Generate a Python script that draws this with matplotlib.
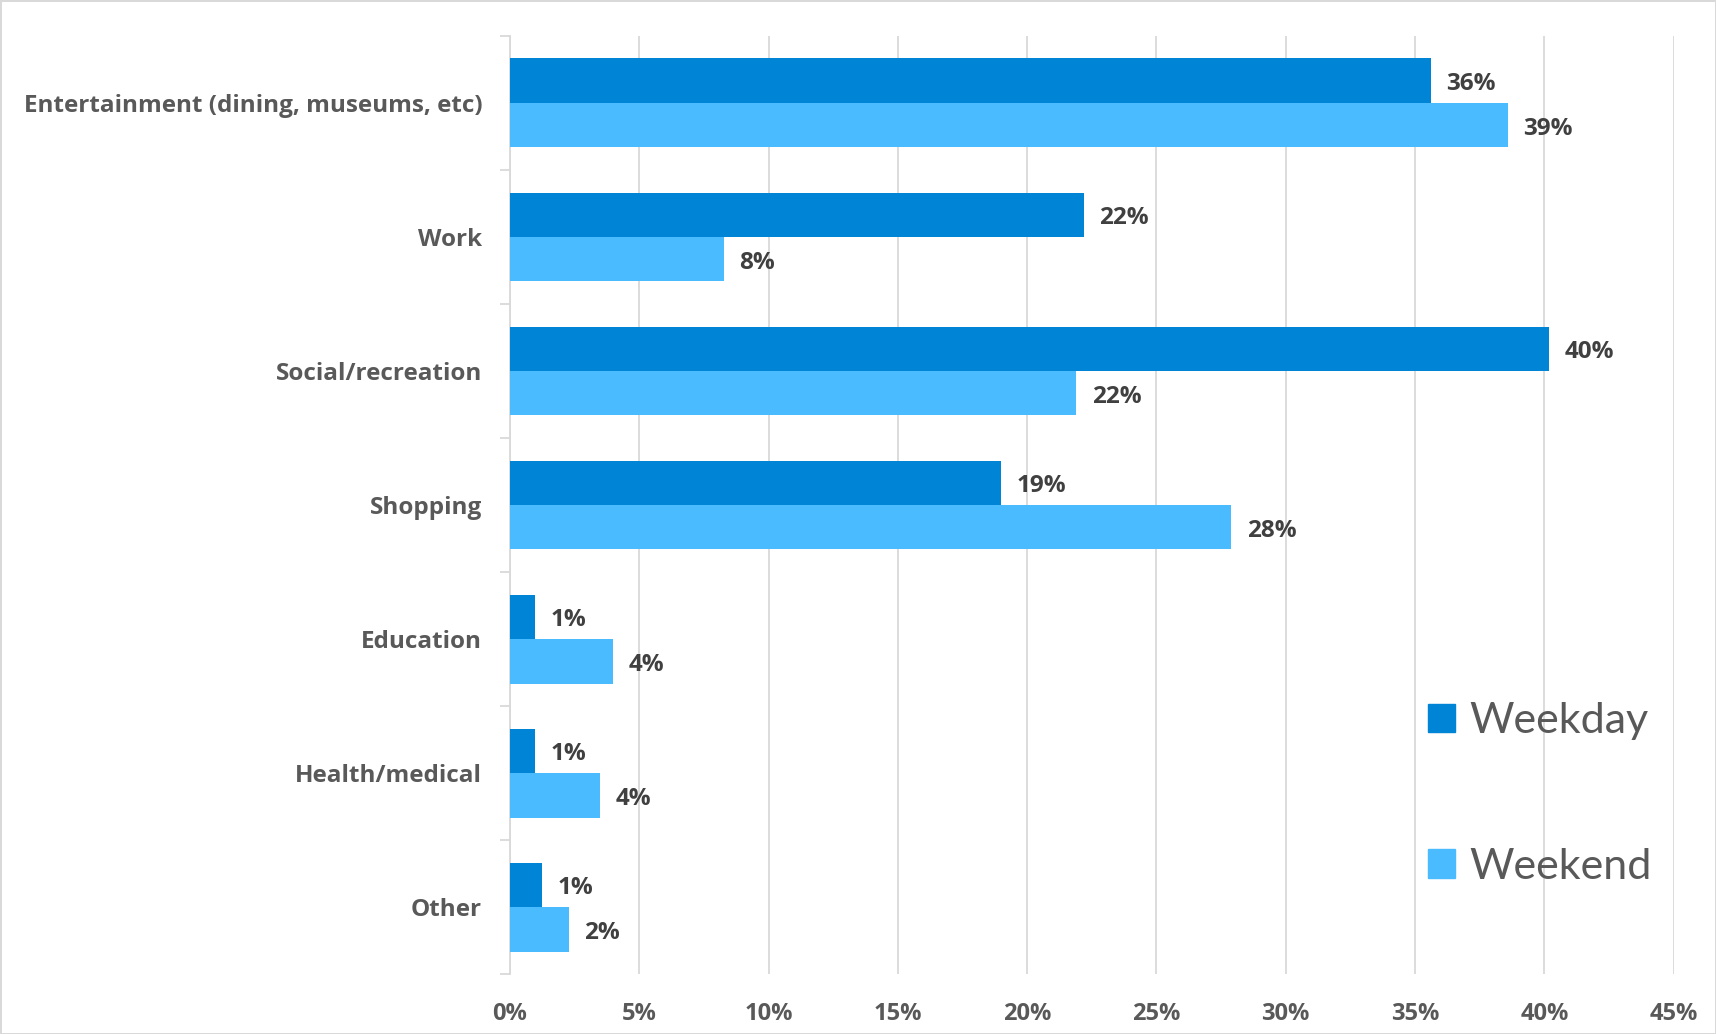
import numpy as np
import matplotlib.pyplot as plt
from matplotlib.patches import Patch

# trip purpose share, weekday vs weekend
categories = ['Entertainment (dining, museums, etc)', 'Work', 'Social/recreation',
              'Shopping', 'Education', 'Health/medical', 'Other']
weekday = [35.6, 22.2, 40.2, 19.0, 0.97, 0.97, 1.25]
weekend = [38.6, 8.26, 21.9, 27.9, 3.98, 3.5, 2.29]
xticks = [0, 5, 10, 15, 20, 25, 30, 35, 40, 45]

c_weekday = '#0084d5'
c_weekend = '#4bbbff'
grid_c = '#d9d9d9'

plt.rcParams['font.family'] = ['Open Sans', 'DejaVu Sans']

fig = plt.figure(figsize=(17.16, 10.34), dpi=100)
fig.patch.set_edgecolor(grid_c)
fig.patch.set_linewidth(2)
ax = fig.add_axes([0.2972, 0.058, 0.6781, 0.9072])

y = np.arange(len(categories))
h = 0.332
ax.barh(y - h / 2, weekday, height=h, color=c_weekday, label='Weekday', zorder=3)
ax.barh(y + h / 2, weekend, height=h, color=c_weekend, label='Weekend', zorder=3)

for yy, v in zip(y - h / 2, weekday):
    ax.annotate('%d%%' % round(v), (v, yy), xytext=(11, -2.5), textcoords='offset points',
                va='center', ha='left', fontsize=17.5, fontweight='bold', color='#404040')
for yy, v in zip(y + h / 2, weekend):
    ax.annotate('%d%%' % round(v), (v, yy), xytext=(11, -2.5), textcoords='offset points',
                va='center', ha='left', fontsize=17.5, fontweight='bold', color='#404040')

ax.set_xlim(0, 45)
ax.set_ylim(len(categories) - 0.5, -0.5)
ax.set_xticks(xticks)
ax.set_xticklabels(['%d%%' % t for t in xticks])
ax.set_yticks(y)
ax.set_yticklabels(categories)
ax.set_yticks(np.arange(-0.5, len(categories)), minor=True)

ax.grid(axis='x', color=grid_c, linewidth=1.3, zorder=0)
for s in ['top', 'right', 'bottom']:
    ax.spines[s].set_visible(False)
ax.spines['left'].set_color(grid_c)
ax.spines['left'].set_linewidth(1.3)

ax.tick_params(axis='x', length=0, pad=20, labelsize=17, labelcolor='#595959')
for lab in ax.get_xticklabels():
    lab.set_fontweight('bold')
ax.tick_params(axis='y', which='major', length=0, pad=20, labelsize=17.5, labelcolor='#595959')
ax.tick_params(axis='y', which='minor', length=7, width=1.3, color=grid_c)
for lab in ax.get_yticklabels():
    lab.set_fontweight('bold')

handles = [Patch(color=c_weekday, label='Weekday'), Patch(color=c_weekend, label='Weekend')]
fig.legend(handles=handles, loc='center left', bbox_to_anchor=(0.832, 0.2323),
           frameon=False, prop={'family': 'Lato', 'size': 31}, labelcolor='#595959',
           borderpad=0, borderaxespad=0, handlelength=0.63, handleheight=0.63,
           handletextpad=0.33, labelspacing=2.5)

fig.savefig('out.png', dpi=100)
